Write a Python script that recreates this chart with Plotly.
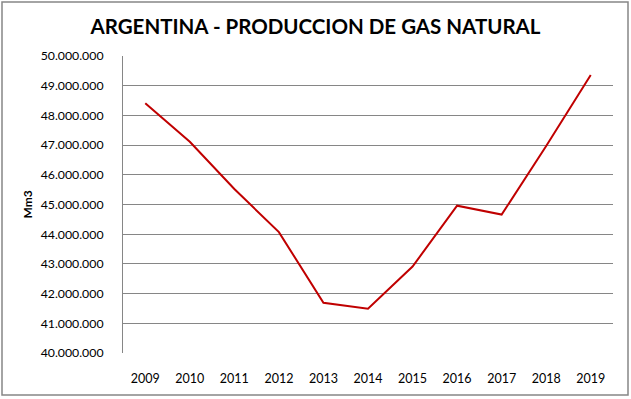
import plotly.graph_objects as go

years = ["2009", "2010", "2011", "2012", "2013", "2014", "2015", "2016", "2017", "2018", "2019"]
production = [48410000, 47110000, 45520000, 44070000, 41690000, 41490000,
              42910000, 44960000, 44660000, 46970000, 49360000]
y_ticks = [40000000 + i * 1000000 for i in range(11)]

W, H = 631, 399
L, R, T, B = 123, 18, 56, 46
pw, ph = W - L - R, H - T - B

fig = go.Figure()
fig.add_trace(go.Scatter(x=years, y=production, mode="lines",
                         line=dict(color="#C00000", width=2)))

font = "Lato, 'Open Sans', sans-serif"
fig.update_layout(
    width=W, height=H,
    margin=dict(l=L, r=R, t=T, b=B, autoexpand=False),
    paper_bgcolor="white", plot_bgcolor="white",
    separators=",.",
    showlegend=False,
    font=dict(family=font, size=12, color="#000000"),
    title=dict(text="<b>ARGENTINA - PRODUCCION DE GAS NATURAL</b>",
               x=0.5, xanchor="center", xref="container", y=1 - 27 / H,
               yref="container", yanchor="middle",
               font=dict(family=font, size=20.5, color="#000000")),
    xaxis=dict(type="category", range=[-0.5, 10.5], showgrid=False, showline=False,
               ticks="", ticklabelstandoff=16, tickfont=dict(size=12.5),
               automargin=False),
    yaxis=dict(range=[40000000, 50000000], tickvals=y_ticks, tickformat=",d",
               showgrid=True, gridcolor="#868686", gridwidth=1,
               showline=True, linecolor="#868686", linewidth=1,
               ticks="", ticklabelstandoff=16, tickfont=dict(size=12.3),
               zeroline=False, automargin=False),
    annotations=[dict(text="<b>Mm3</b>", textangle=-90, x=(27 - L) / pw, y=0.5,
                      xref="paper", yref="paper", showarrow=False,
                      xanchor="center", yanchor="middle",
                      font=dict(family=font, size=12))],
    shapes=[dict(type="rect", xref="paper", yref="paper",
                 x0=(2 - L) / pw, x1=(628 - L) / pw,
                 y0=(H - B - 395) / ph, y1=(H - B - 2) / ph,
                 line=dict(color="#868686", width=1.5), layer="below")],
)

fig.write_html("out.html", config={"displayModeBar": False},
               post_script="document.body.style.margin='0';")
